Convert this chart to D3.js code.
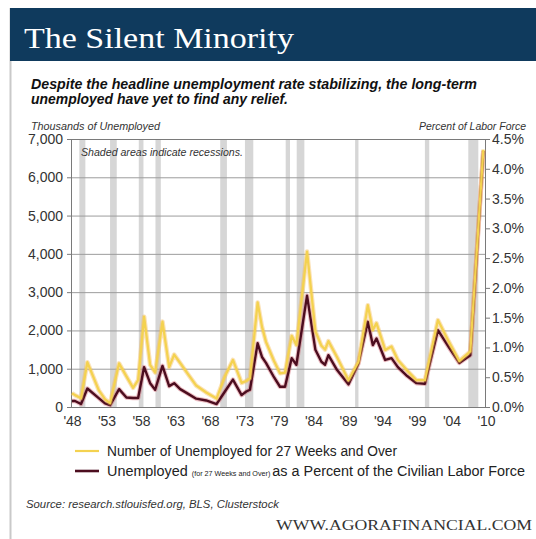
<!DOCTYPE html>
<html>
<head>
<meta charset="utf-8">
<script src="https://cdn.jsdelivr.net/npm/d3@7"></script>
<style>
  html, body { margin: 0; padding: 0; background: #fff; }
  svg { display: block; }
</style>
</head>
<body>
<svg id="chart" width="536" height="539"></svg>
<script>
// ---------- DATA ----------
const years = [1948.0, 1948.45, 1949.35, 1950.3, 1952.0, 1952.95, 1953.7, 1955.05, 1956.15, 1957.15,
  1957.9, 1958.8, 1959.7, 1960.45, 1961.55, 1962.55, 1963.3, 1964.2, 1965.4, 1966.6,
  1968.1, 1969.65, 1970.9, 1972.1, 1973.4, 1974.1, 1974.65, 1975.8, 1976.45, 1977.05,
  1978.25, 1979.15, 1979.9, 1980.9, 1981.6, 1983.2, 1984.45, 1985.35, 1985.9, 1986.4,
  1987.7, 1989.4, 1990.9, 1992.3, 1993.05, 1993.6, 1994.9, 1995.85, 1996.8, 1998.2,
  1999.6, 2000.85, 2002.8, 2004.45, 2006.0, 2007.65, 2009.6];

// Number of unemployed 27 weeks and over (thousands)
const longTermThousands = [360, 310, 230, 1170, 440, 200, 100, 1140, 800, 500,
  700, 2360, 1100, 900, 2230, 1040, 1370, 1150, 850, 560,
  380, 220, 800, 1230, 630, 680, 750, 2730, 2100, 1700,
  1200, 880, 900, 1860, 1620, 4060, 1980, 1600, 1500, 1720,
  1300, 700, 1180, 2660, 2010, 2190, 1490, 1580, 1230, 950,
  700, 700, 2270, 1700, 1200, 1450, 6720];

// Unemployed 27 weeks and over as % of civilian labor force
const longTermPercent = [0.10, 0.10, 0.05, 0.31, 0.15, 0.06, 0.03, 0.30, 0.16, 0.15,
  0.15, 0.67, 0.40, 0.29, 0.69, 0.35, 0.40, 0.30, 0.22, 0.14,
  0.11, 0.05, 0.26, 0.46, 0.20, 0.26, 0.29, 1.07, 0.84, 0.74,
  0.50, 0.34, 0.34, 0.82, 0.71, 1.87, 0.96, 0.76, 0.71, 0.87,
  0.62, 0.38, 0.73, 1.43, 1.04, 1.15, 0.79, 0.82, 0.67, 0.52,
  0.40, 0.39, 1.29, 1.00, 0.74, 0.87, 4.30];

// Recession periods (as drawn)
const recessionStart = [1949.1, 1953.7, 1958.0, 1960.5, 1970.2, 1973.9, 1980.0, 1981.65, 1990.4, 2000.85, 2007.35];
const recessionEnd   = [1950.0, 1954.7, 1958.7, 1961.3, 1971.2, 1975.15, 1980.65, 1982.8, 1990.9, 2001.5, 2008.85];

const xTickLabels = ["'48", "'53", "'58", "'63", "'68", "'73", "'79", "'84", "'89", "'94", "'99", "'04", "'10"];
const leftTicks = [0, 1000, 2000, 3000, 4000, 5000, 6000, 7000];
const rightTicks = [0, 0.5, 1.0, 1.5, 2.0, 2.5, 3.0, 3.5, 4.0, 4.5];

const titleText = "The Silent Minority";
const subtitleLines = ["Despite the headline unemployment rate stabilizing, the long-term",
                       "unemployed have yet to find any relief."];

// ---------- LAYOUT ----------
const svg = d3.select("#chart");
const L = 71, R = 486, T = 139, B = 407;

const x = d3.scaleLinear().domain([1948, 2010]).range([72, 486]);
const xLab = d3.scalePoint().domain(xTickLabels).range([72, 486]);
const yL = d3.scaleLinear().domain([0, 7000]).range([B, T]);
const yR = d3.scaleLinear().domain([0, 4.5]).range([B, T]);

// panel edge
svg.append("line").attr("x1", 10.5).attr("x2", 10.5).attr("y1", 8).attr("y2", 539)
  .attr("stroke", "#c9c9c9").attr("stroke-width", 2);

// header band
svg.append("rect").attr("x", 10).attr("y", 8).attr("width", 526).attr("height", 53)
  .attr("fill", "#0f3a5d");
svg.append("text").attr("x", 24).attr("y", 48)
  .attr("font-family", "'Liberation Serif', 'DejaVu Serif', serif")
  .attr("font-size", 30).attr("fill", "#fff")
  .attr("textLength", 270).attr("lengthAdjust", "spacingAndGlyphs")
  .text(titleText);

// subtitle
const subW = [446, 257];
subtitleLines.forEach((s, i) => {
  svg.append("text").attr("x", 31).attr("y", 89 + i * 15)
    .attr("font-family", "'Liberation Sans', Arial, sans-serif")
    .attr("font-size", 14).attr("font-weight", "bold").attr("font-style", "italic")
    .attr("fill", "#111")
    .attr("textLength", subW[i]).attr("lengthAdjust", "spacingAndGlyphs")
    .text(s);
});

// axis titles
svg.append("text").attr("x", 31).attr("y", 130)
  .attr("font-family", "'Liberation Sans', Arial, sans-serif")
  .attr("font-size", 10.5).attr("font-style", "italic").attr("fill", "#333")
  .attr("textLength", 129).attr("lengthAdjust", "spacingAndGlyphs")
  .text("Thousands of Unemployed");
svg.append("text").attr("x", 526).attr("y", 130).attr("text-anchor", "end")
  .attr("font-family", "'Liberation Sans', Arial, sans-serif")
  .attr("font-size", 10.5).attr("font-style", "italic").attr("fill", "#333")
  .attr("textLength", 107).attr("lengthAdjust", "spacingAndGlyphs")
  .text("Percent of Labor Force");

// recessions
svg.append("g").selectAll("rect").data(recessionStart).join("rect")
  .attr("x", (d) => x(d))
  .attr("width", (d, i) => x(recessionEnd[i]) - x(d))
  .attr("y", T).attr("height", B - T)
  .attr("fill", "#d6d6d6");

// gridlines
svg.append("g").selectAll("line").data(leftTicks.filter(d => d > 0 && d < 7000)).join("line")
  .attr("x1", L).attr("x2", R)
  .attr("y1", d => yL(d) + 0.5).attr("y2", d => yL(d) + 0.5)
  .attr("stroke", "#9c9c9c").attr("stroke-width", 1);

// frame
svg.append("rect").attr("x", L + 0.5).attr("y", T + 0.5).attr("width", R - L - 1).attr("height", B - T)
  .attr("fill", "none").attr("stroke", "#7a7a7a").attr("stroke-width", 1);

svg.append("text").attr("x", 81).attr("y", 156)
  .attr("font-family", "'Liberation Sans', Arial, sans-serif")
  .attr("font-size", 10).attr("font-style", "italic").attr("fill", "#333")
  .attr("textLength", 162).attr("lengthAdjust", "spacingAndGlyphs")
  .text("Shaded areas indicate recessions.");

// axes
const axisFont = "'Liberation Sans', Arial, sans-serif";
const gL = svg.append("g").attr("transform", `translate(${L},0)`)
  .call(d3.axisLeft(yL).tickValues(leftTicks).tickSize(4).tickPadding(4).tickFormat(d3.format(",")));
const gR = svg.append("g").attr("transform", `translate(${R},0)`)
  .call(d3.axisRight(yR).tickValues(rightTicks).tickSize(4).tickPadding(2).tickFormat(d => d3.format(".1f")(d) + "%"));
const gX = svg.append("g").attr("transform", `translate(0,${B})`)
  .call(d3.axisBottom(xLab).tickSize(0).tickPadding(9));
[gL, gR, gX].forEach(g => {
  g.select(".domain").remove();
  g.selectAll(".tick line").attr("stroke", "#7a7a7a");
  g.selectAll("text").attr("font-family", axisFont).attr("font-size", 14).attr("fill", "#333");
});
gX.selectAll("text").attr("font-size", 14);

// lines
const lineL = d3.line().x((d, i) => x(years[i])).y(d => yL(d));
const lineR = d3.line().x((d, i) => x(years[i])).y(d => yR(d));

svg.append("path").datum(longTermPercent).attr("d", lineR)
  .attr("fill", "none").attr("stroke", "#c8434f").attr("stroke-opacity", 0.35)
  .attr("stroke-width", 4.5).attr("stroke-linejoin", "round");
svg.append("path").datum(longTermPercent).attr("d", lineR)
  .attr("fill", "none").attr("stroke", "#4c0d1f")
  .attr("stroke-width", 2.4).attr("stroke-linejoin", "round");

svg.append("path").datum(longTermThousands).attr("d", lineL)
  .attr("fill", "none").attr("stroke", "#f4b64a").attr("stroke-opacity", 0.4)
  .attr("stroke-width", 4.5).attr("stroke-linejoin", "round");
svg.append("path").datum(longTermThousands).attr("d", lineL)
  .attr("fill", "none").attr("stroke", "#f4d250")
  .attr("stroke-width", 2.3).attr("stroke-linejoin", "round");

// legend
const lg = svg.append("g");
lg.append("line").attr("x1", 75).attr("x2", 99).attr("y1", 451).attr("y2", 451)
  .attr("stroke", "#f4d250").attr("stroke-width", 2.2);
lg.append("line").attr("x1", 75).attr("x2", 99).attr("y1", 471).attr("y2", 471)
  .attr("stroke", "#4c0d1f").attr("stroke-width", 2.6);
lg.append("text").attr("x", 107).attr("y", 456)
  .attr("font-family", axisFont).attr("font-size", 14).attr("fill", "#222")
  .attr("textLength", 290).attr("lengthAdjust", "spacingAndGlyphs")
  .text("Number of Unemployed for 27 Weeks and Over");
const t2 = lg.append("text").attr("x", 107).attr("y", 476)
  .attr("font-family", axisFont).attr("font-size", 14).attr("fill", "#222");
t2.append("tspan").text("Unemployed ");
t2.append("tspan").attr("font-size", 7).text("(for 27 Weeks and Over) ");
t2.append("tspan").text("as a Percent of the Civilian Labor Force");
t2.attr("textLength", 418).attr("lengthAdjust", "spacingAndGlyphs");

// source and footer
svg.append("text").attr("x", 26).attr("y", 508)
  .attr("font-family", axisFont).attr("font-size", 10.5).attr("font-style", "italic").attr("fill", "#333")
  .attr("textLength", 253).attr("lengthAdjust", "spacingAndGlyphs")
  .text("Source: research.stlouisfed.org, BLS, Clusterstock");
svg.append("text").attr("x", 532).attr("y", 530).attr("text-anchor", "end")
  .attr("font-family", "'Liberation Serif', 'DejaVu Serif', serif")
  .attr("font-size", 15).attr("fill", "#333")
  .attr("textLength", 256).attr("lengthAdjust", "spacingAndGlyphs")
  .text("WWW.AGORAFINANCIAL.COM");
</script>
</body>
</html>
